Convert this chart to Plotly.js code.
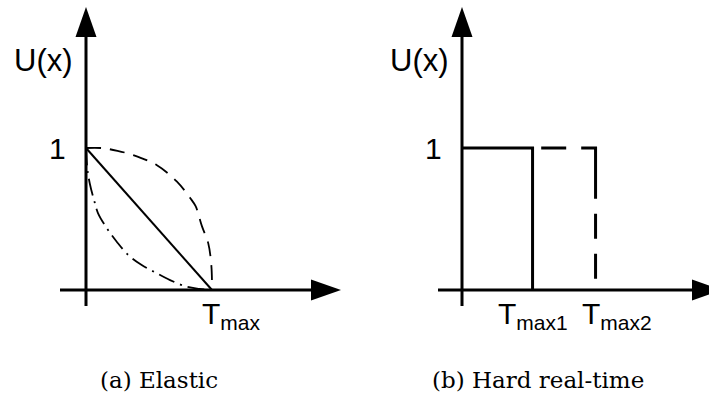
<!DOCTYPE html>
<html>
<head>
<meta charset="utf-8">
<script src="https://cdn.plot.ly/plotly-3.0.1.min.js"></script>
<style>html,body{margin:0;padding:0;background:#fff;overflow:hidden}</style>
</head>
<body>
<div id="chart" style="width:709px;height:394px"></div>
<script>
// ---------------- data ----------------
// (a) Elastic: utility U(x) vs x, x in units of Tmax
const elasticLinearX  = [0, 1];
const elasticLinearU  = [1, 0];
const elasticConcaveX = [0, 0.12, 0.25, 0.375, 0.56, 0.72, 0.825, 0.87, 0.92, 0.97, 0.995, 1.0];
const elasticConcaveU = [1.0, 1.0, 0.98, 0.95, 0.88, 0.765, 0.65, 0.59, 0.45, 0.33, 0.17, 0.0];
const elasticConvexX  = [0, 0.01, 0.03, 0.07, 0.095, 0.164, 0.244, 0.336, 0.442, 0.561, 0.667, 0.799, 0.9, 1.0];
const elasticConvexU  = [1.0, 0.86, 0.75, 0.613, 0.542, 0.437, 0.34, 0.246, 0.176, 0.118, 0.07, 0.023, 0.008, 0.0];
// (b) Hard real-time
const hardTmax1 = 0.56;
const hardTmax2 = 1.06;
const hardStepX = [0, hardTmax1, hardTmax1];
const hardStepU = [1, 1, 0];
const hardDashX = [hardTmax2, hardTmax2, hardTmax1];
const hardDashU = [0.08, 1, 1];
// text
const yLabel = 'U(x)';
const yTickLabel = '1';
const elasticTLabel = 'T<sub>max</sub>';
const hardTLabels = ['T<sub>max1</sub>', 'T<sub>max2</sub>'];
const captions = ['(a) Elastic', '(b) Hard real-time'];

// ---------------- layout helpers ----------------
const W = 709, H = 394;
const PXX = 126, PXY = 142;          // pixels per data unit
const Y0PX = 290;                     // pixel row of U = 0
const ORIGIN_A = 86, ORIGIN_B = 462;  // pixel column of x = 0 in each panel
const half = W / 2;
const yRange = [-(H - Y0PX) / PXY, Y0PX / PXY];
const xRangeA = [-ORIGIN_A / PXX, (half - ORIGIN_A) / PXX];
const xRangeB = [-(ORIGIN_B - half) / PXX, (W - ORIGIN_B) / PXX];

const black = '#000';
const sans = 'Liberation Sans, Arial, sans-serif';
const serif = 'DejaVu Serif, serif';

const traces = [
  {x: elasticConcaveX, y: elasticConcaveU, xaxis: 'x', yaxis: 'y', mode: 'lines',
   line: {color: black, width: 1.8, dash: '15px,9px', shape: 'spline', smoothing: 1}},
  {x: elasticConvexX, y: elasticConvexU, xaxis: 'x', yaxis: 'y', mode: 'lines',
   line: {color: black, width: 1.8, dash: '17px,6px,2px,6px', shape: 'spline', smoothing: 1}},
  {x: elasticLinearX, y: elasticLinearU, xaxis: 'x', yaxis: 'y', mode: 'lines',
   line: {color: black, width: 2}},
  {x: hardStepX, y: hardStepU, xaxis: 'x2', yaxis: 'y2', mode: 'lines',
   line: {color: black, width: 3}},
  {x: hardDashX, y: hardDashU, xaxis: 'x2', yaxis: 'y2', mode: 'lines',
   line: {color: black, width: 3, dash: '25px,15px,25px,15px,65px,15px,25px,15px'}}
];

// axis arrows (decoration, in each panel's data units)
const AL = 30, AW = 10.5; // arrowhead length / half-width in px
function axisShapes(xr, yr, xTail, xTip, yTail, yTip) {
  const l = 3;
  const Lx = AL / PXX, Wx = AW / PXX, Ly = AL / PXY, Wy = AW / PXY;
  return [
    {type: 'line', xref: xr, yref: yr, x0: 0, x1: 0, y0: yTail, y1: yTip - Ly * 0.5, line: {color: black, width: l}},
    {type: 'line', xref: xr, yref: yr, x0: xTail, x1: xTip - Lx * 0.5, y0: 0, y1: 0, line: {color: black, width: l}},
    {type: 'path', xref: xr, yref: yr, fillcolor: black, line: {width: 0},
     path: `M ${-Wx},${yTip - Ly} L ${Wx},${yTip - Ly} L 0,${yTip} Z`},
    {type: 'path', xref: xr, yref: yr, fillcolor: black, line: {width: 0},
     path: `M ${xTip - Lx},${-Wy} L ${xTip - Lx},${Wy} L ${xTip},0 Z`}
  ];
}
const shapes = [].concat(
  axisShapes('x', 'y', (60 - ORIGIN_A) / PXX, (341 - ORIGIN_A) / PXX, -16 / PXY, (Y0PX - 7) / PXY),
  axisShapes('x2', 'y2', (438 - ORIGIN_B) / PXX, (722 - ORIGIN_B) / PXX, -16 / PXY, (Y0PX - 7) / PXY)
);

function ann(xr, yr, x, y, text, size, xanchor, family) {
  return {xref: xr, yref: yr, x: x, y: y, text: text, showarrow: false,
          xanchor: xanchor, yanchor: 'middle', font: {family: family || sans, size: size, color: black}};
}
const annotations = [
  ann('x', 'y', -11 / PXX, (Y0PX - 60) / PXY, yLabel, 31, 'right'),
  ann('x', 'y', -18 / PXX, 1, yTickLabel, 30, 'right'),
  ann('x', 'y', (200 - ORIGIN_A) / PXX, -25 / PXY, elasticTLabel, 30, 'left'),
  ann('x2', 'y2', -11 / PXX, (Y0PX - 60) / PXY, yLabel, 31, 'right'),
  ann('x2', 'y2', -18 / PXX, 1, yTickLabel, 30, 'right'),
  ann('x2', 'y2', (496 - ORIGIN_B) / PXX, -25 / PXY, hardTLabels[0], 30, 'left'),
  ann('x2', 'y2', (580 - ORIGIN_B) / PXX, -25 / PXY, hardTLabels[1], 30, 'left'),
  ann('paper', 'paper', 159 / W, 1 - 380 / H, captions[0], 23, 'center', serif),
  ann('paper', 'paper', 538 / W, 1 - 380 / H, captions[1], 23, 'center', serif)
];

const hidden = {visible: false, showgrid: false, zeroline: false, fixedrange: true};
const layout = {
  width: W, height: H, autosize: false,
  margin: {l: 0, r: 0, t: 0, b: 0, pad: 0},
  paper_bgcolor: '#fff', plot_bgcolor: 'rgba(0,0,0,0)',
  showlegend: false,
  font: {family: sans, size: 30, color: black},
  xaxis:  Object.assign({domain: [0, 0.5], range: xRangeA}, hidden),
  yaxis:  Object.assign({domain: [0, 1], range: yRange}, hidden),
  xaxis2: Object.assign({domain: [0.5, 1], range: xRangeB, anchor: 'y2'}, hidden),
  yaxis2: Object.assign({domain: [0, 1], range: yRange, anchor: 'x2'}, hidden),
  shapes: shapes,
  annotations: annotations
};
Plotly.newPlot('chart', traces, layout, {staticPlot: true, displayModeBar: false});
</script>
</body>
</html>
